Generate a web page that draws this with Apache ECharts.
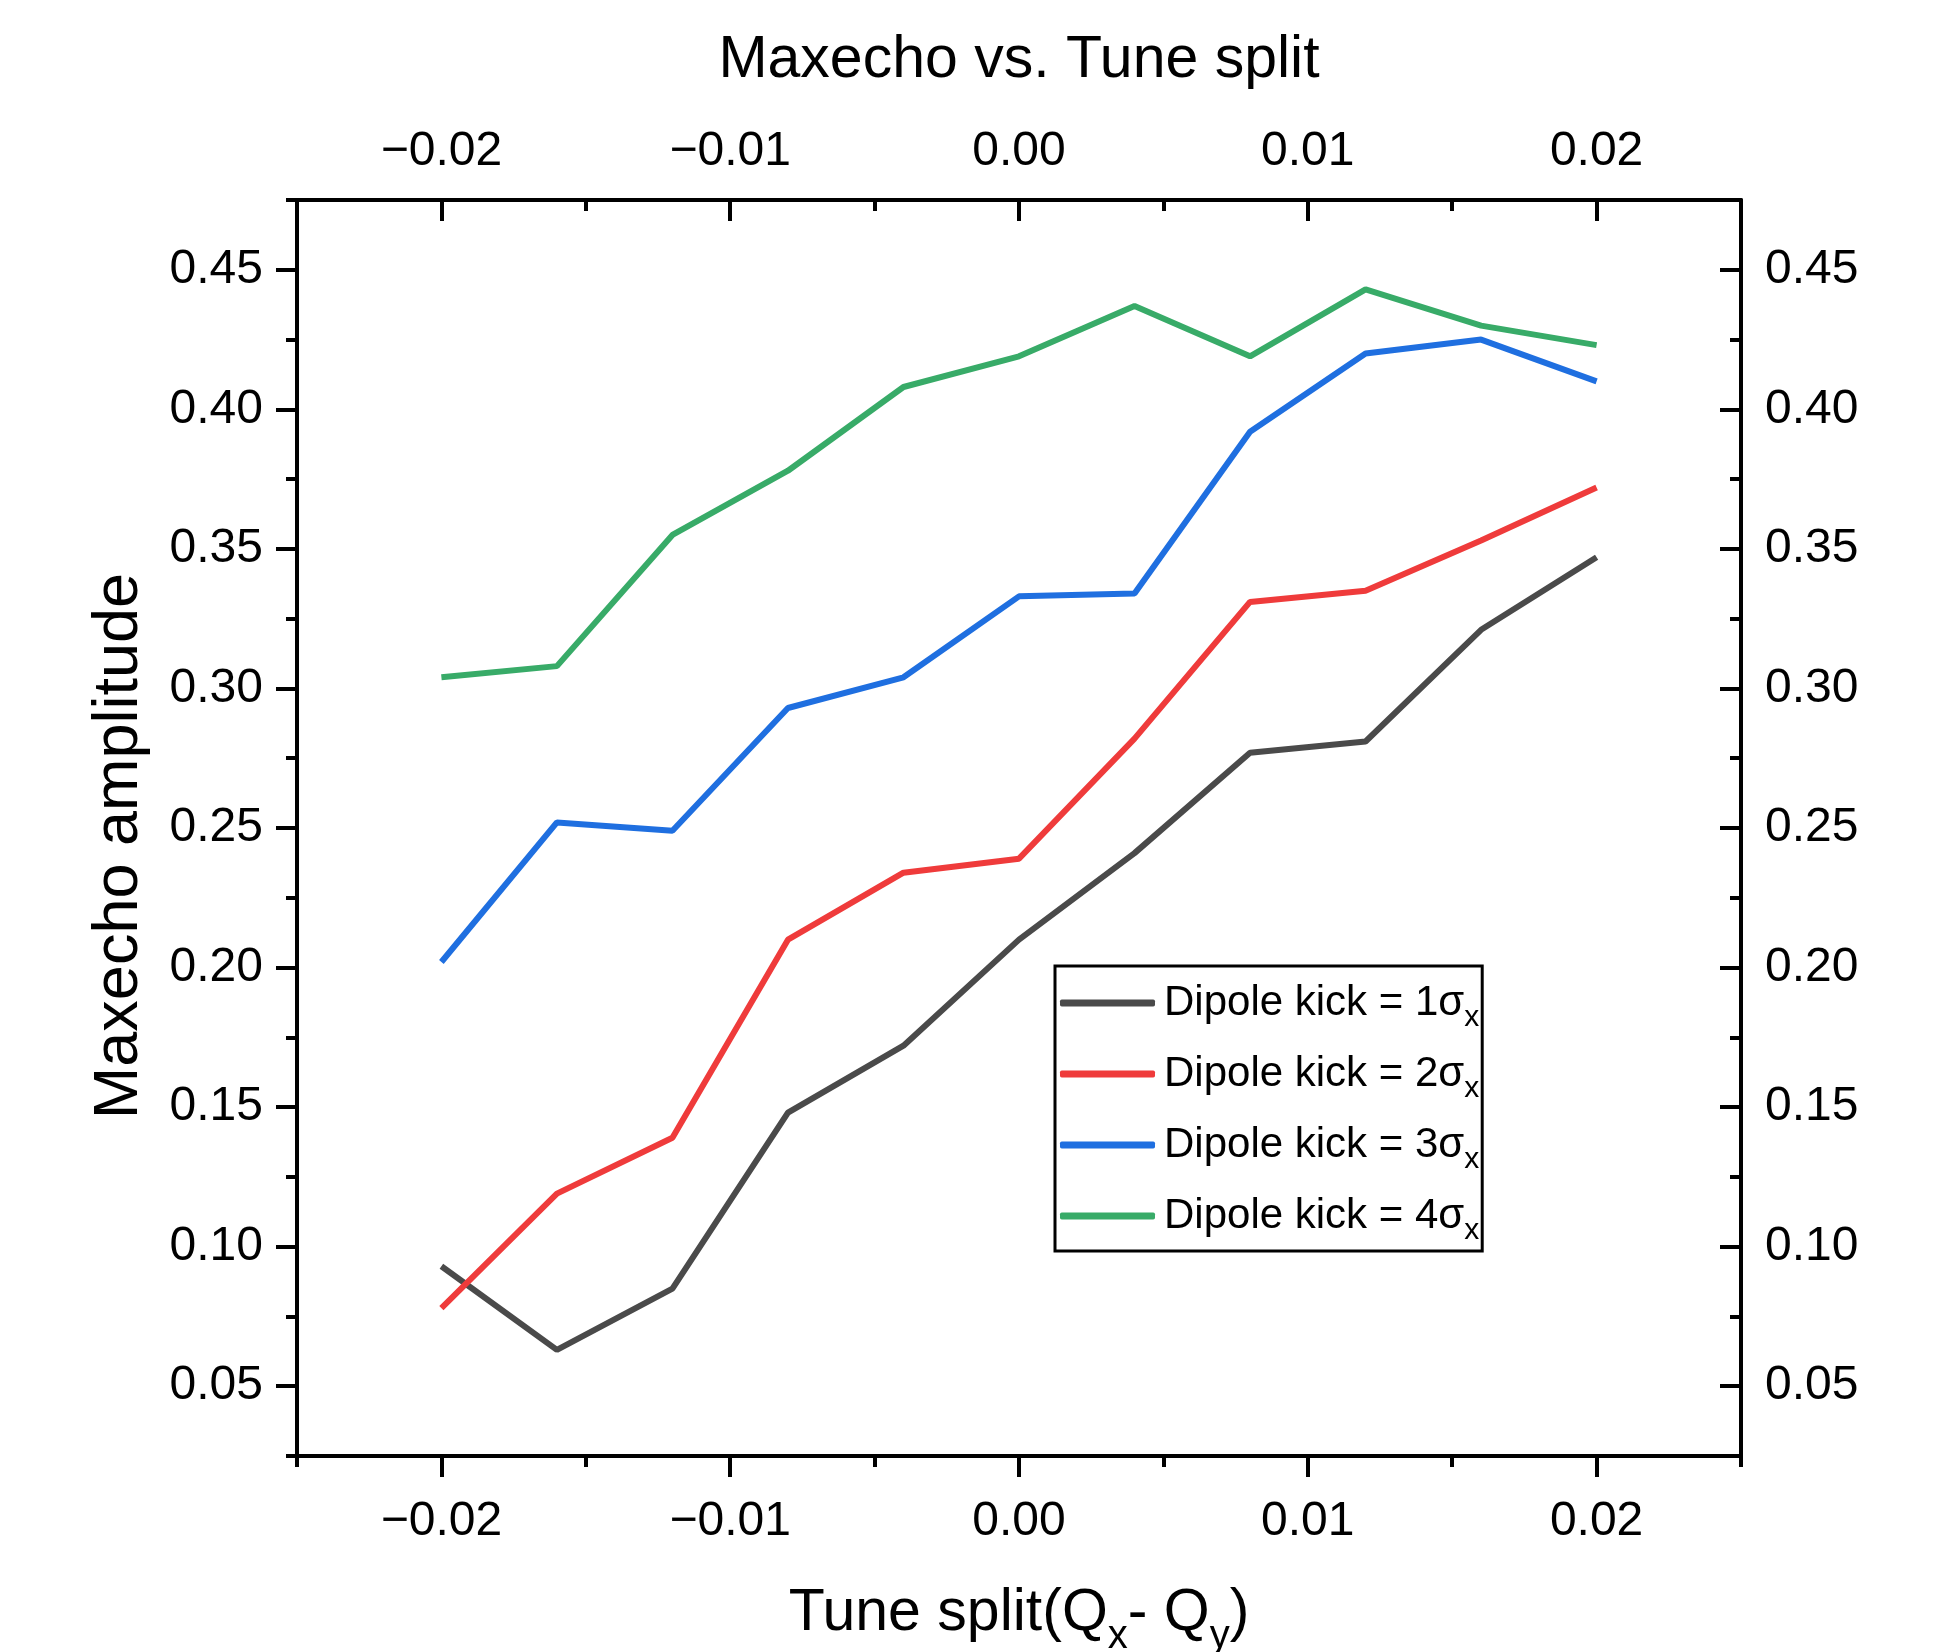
<!DOCTYPE html>
<html>
<head>
<meta charset="utf-8">
<script src="https://cdn.jsdelivr.net/npm/echarts@6/dist/echarts.min.js"></script>
<style>
  html, body { margin: 0; padding: 0; background: #fff; }
  #chart { width: 1937px; height: 1652px; }
</style>
</head>
<body>
<div id="chart"></div>
<script>
// tune split values (x)
const tuneSplit = [-0.020, -0.016, -0.012, -0.008, -0.004, 0.000, 0.004, 0.008, 0.012, 0.016, 0.020];

// maxecho amplitude per dipole kick
const kick1 = [0.093, 0.063, 0.085, 0.148, 0.172, 0.210, 0.241, 0.277, 0.281, 0.321, 0.347];
const kick2 = [0.078, 0.119, 0.139, 0.210, 0.234, 0.239, 0.282, 0.331, 0.335, 0.353, 0.372];
const kick3 = [0.202, 0.252, 0.249, 0.293, 0.304, 0.333, 0.334, 0.392, 0.420, 0.425, 0.410];
const kick4 = [0.304, 0.308, 0.355, 0.378, 0.408, 0.419, 0.437, 0.419, 0.443, 0.430, 0.423];

const seriesNames = ['Dipole kick = 1σx', 'Dipole kick = 2σx', 'Dipole kick = 3σx', 'Dipole kick = 4σx'];
const seriesColors = ['#4a4a4a', '#ef3b3b', '#1f6fe0', '#38ab68'];

// tick labels
const xTicks = [-0.02, -0.01, 0.00, 0.01, 0.02];
const yTicks = [0.05, 0.10, 0.15, 0.20, 0.25, 0.30, 0.35, 0.40, 0.45];

const FONT = 'Liberation Sans';

function fmt(v) {
  const s = Math.abs(v).toFixed(2);
  return v < -1e-9 ? '\u2212' + s : s;
}

function majorX(position, inside, extra) {
  return Object.assign({
    type: 'value', position: position, min: -0.025, max: 0.025,
    axisLine: { show: true, onZero: false, lineStyle: { color: '#000', width: 4 } },
    axisTick: { show: true, inside: inside, length: 21, customValues: xTicks, lineStyle: { color: '#000', width: 4 } },
    axisLabel: { show: true, customValues: xTicks, formatter: fmt, fontFamily: FONT, fontSize: 48, color: '#000', margin: position === 'top' ? 24 : 42 },
    splitLine: { show: false }
  }, extra || {});
}
function minorX(position, inside) {
  return {
    type: 'value', position: position, min: -0.025, max: 0.025, interval: 0.005,
    axisLine: { show: false, onZero: false },
    axisTick: { show: true, inside: inside, length: 11, lineStyle: { color: '#000', width: 4 } },
    axisLabel: { show: false },
    splitLine: { show: false }
  };
}
function majorY(position, inside, extra) {
  return Object.assign({
    type: 'value', position: position, min: 0.025, max: 0.475,
    axisLine: { show: true, onZero: false, lineStyle: { color: '#000', width: 4 } },
    axisTick: { show: true, inside: inside, length: 21, customValues: yTicks, lineStyle: { color: '#000', width: 4 } },
    axisLabel: { show: true, customValues: yTicks, formatter: fmt, fontFamily: FONT, fontSize: 48, color: '#000', margin: position === 'left' ? 34 : 24 },
    splitLine: { show: false }
  }, extra || {});
}
function minorY(position, inside) {
  return {
    type: 'value', position: position, min: 0.025, max: 0.475, interval: 0.025,
    axisLine: { show: false, onZero: false },
    axisTick: { show: true, inside: inside, length: 11, lineStyle: { color: '#000', width: 4 } },
    axisLabel: { show: false },
    splitLine: { show: false }
  };
}

const chart = echarts.init(document.getElementById('chart'), null, { renderer: 'canvas' });

const option = {
  animation: false,
  backgroundColor: '#fff',
  grid: { left: 297, right: 196, top: 200, bottom: 196, containLabel: false, outerBoundsMode: 'none' },
  xAxis: [
    majorX('bottom', false, {
      name: 'Tune split(Q{s|x}- Q{s|y})',
      nameLocation: 'middle', nameGap: 128,
      nameTextStyle: {
        fontFamily: FONT, fontSize: 59, color: '#000',
        rich: { s: { fontFamily: FONT, fontSize: 40, color: '#000', verticalAlign: 'bottom', lineHeight: 40, padding: [0, 0, -14, 0] } }
      }
    }),
    minorX('bottom', false),
    majorX('top', true, {
      name: 'Maxecho vs. Tune split',
      nameLocation: 'middle', nameGap: 110,
      nameTextStyle: { fontFamily: FONT, fontSize: 59, color: '#000' }
    }),
    minorX('top', true)
  ],
  yAxis: [
    majorY('left', false, {
      name: 'Maxecho amplitude',
      nameLocation: 'middle', nameGap: 146, nameRotate: 90,
      nameTextStyle: { fontFamily: FONT, fontSize: 63, color: '#000', padding: [0, 36, 0, 0] }
    }),
    minorY('left', false),
    majorY('right', true),
    minorY('right', true)
  ],
  legend: {
    orient: 'vertical',
    left: 1055, top: 966,
    data: seriesNames,
    selectedMode: false,
    icon: 'roundRect',
    itemWidth: 95, itemHeight: 7,
    itemGap: 20,
    padding: [16, 3, 5, 5],
    backgroundColor: '#fff',
    borderColor: '#000', borderWidth: 3, borderRadius: 0,
    formatter: function (name) {
      return '{a|' + name.slice(0, -1) + '}{b|x}';
    },
    textStyle: {
      rich: {
        a: { fontFamily: FONT, fontSize: 42, color: '#000', lineHeight: 60, padding: [0, 0, 0, 4] },
        b: { fontFamily: FONT, fontSize: 30, color: '#000', lineHeight: 30, verticalAlign: 'bottom' }
      }
    }
  },
  series: [kick1, kick2, kick3, kick4].map(function (vals, i) {
    return {
      name: seriesNames[i],
      type: 'line',
      xAxisIndex: 0, yAxisIndex: 0,
      symbol: 'none',
      lineStyle: { color: seriesColors[i], width: 6 },
      itemStyle: { color: seriesColors[i] },
      data: tuneSplit.map(function (x, j) { return [x, vals[j]]; })
    };
  })
};

chart.setOption(option);
</script>
</body>
</html>
